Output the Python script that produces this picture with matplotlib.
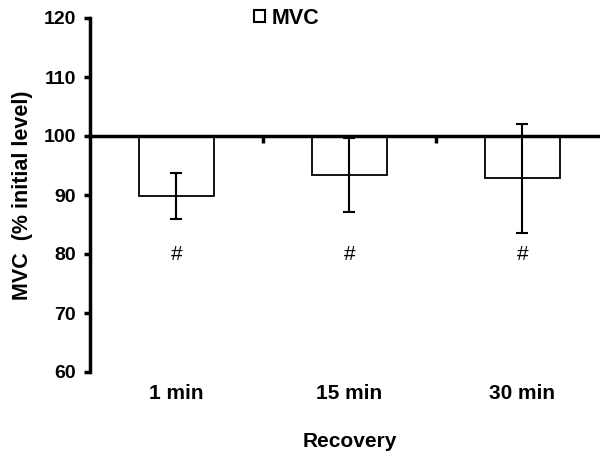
import matplotlib
matplotlib.use("Agg")
import matplotlib.pyplot as plt
from matplotlib.patches import Patch
import numpy as np

plt.rcParams['font.family'] = ['Liberation Sans', 'DejaVu Sans']

categories = ['1 min', '15 min', '30 min']
mvc = [89.9, 93.4, 92.8]
mvc_sd = [3.9, 6.2, 9.2]
marks = ['#', '#', '#']
yticks = [60, 70, 80, 90, 100, 110, 120]

fig = plt.figure(figsize=(6, 4.55), dpi=100)
ax = fig.add_axes([90 / 600, 1 - 372 / 455, 519 / 600, 354 / 455])

x = np.arange(len(categories))
vals = np.array(mvc)
ax.bar(x, vals - 100, bottom=100, width=0.43, facecolor='white',
       edgecolor='black', linewidth=1.3, zorder=2)
ax.errorbar(x, vals, yerr=mvc_sd, fmt='none', ecolor='black',
            elinewidth=1.5, capsize=4, capthick=1.5, zorder=3)
for xi, m in zip(x, marks):
    ax.text(xi, 80, m, ha='center', va='center', fontsize=15)

ax.set_xlim(-0.5, 2.5)
ax.set_ylim(60, 120)
ax.set_yticks(yticks)
ax.tick_params(axis='y', direction='out', length=4, width=2.5, labelsize=14, pad=6)
for lbl in ax.get_yticklabels():
    lbl.set_fontweight('bold')

ax.spines['top'].set_visible(False)
ax.spines['right'].set_visible(False)
ax.spines['left'].set_linewidth(2.5)
ax.spines['bottom'].set_position(('data', 100))
ax.spines['bottom'].set_linewidth(2.5)
ax.spines['bottom'].set_zorder(4)
ax.set_xticks([0.5, 1.5])
ax.set_xticklabels([])
ax.tick_params(axis='x', direction='out', length=5, width=2.5)

for xi, c in zip(x, categories):
    ax.text(xi, 56.3, c, ha='center', va='center', fontsize=15,
            fontweight='bold', clip_on=False)
ax.text(1, 48.2, 'Recovery', ha='center', va='center', fontsize=15,
        fontweight='bold', clip_on=False)
ax.set_ylabel('MVC  (% initial level)', fontsize=15.5, fontweight='bold', labelpad=8)

handle = Patch(facecolor='white', edgecolor='black', linewidth=1.5)
fig.legend([handle], ['MVC'], loc='center left',
           bbox_to_anchor=(254 / 600, 1 - 18 / 455), frameon=False,
           prop={'size': 15.5, 'weight': 'bold'}, handlelength=0.52,
           handleheight=0.52, handletextpad=0.3, borderpad=0,
           borderaxespad=0)

fig.savefig('out.png', dpi=100)
